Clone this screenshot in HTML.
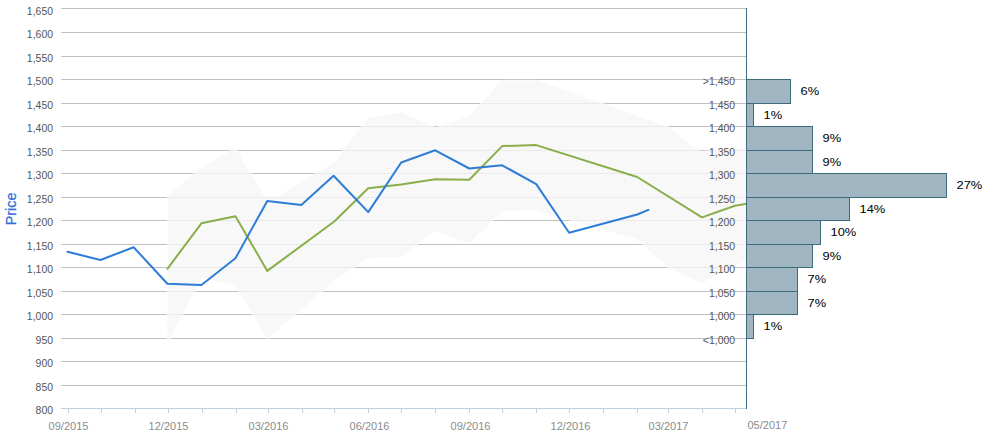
<!DOCTYPE html><html><head><meta charset="utf-8"><style>html,body{margin:0;padding:0;background:#fff;width:988px;height:437px;overflow:hidden}svg{display:block}text{font-family:"Liberation Sans",sans-serif}</style></head><body>
<svg width="988" height="437" viewBox="0 0 988 437">
<rect width="988" height="437" fill="#fff"/>
<path d="M61 8.5H746 M61 32.5H746 M61 56.5H746 M61 79.5H746 M61 103.5H746 M61 126.5H746 M61 150.5H746 M61 173.5H746 M61 197.5H746 M61 220.5H746 M61 244.5H746 M61 267.5H746 M61 291.5H746 M61 314.5H746 M61 338.5H746 M61 361.5H746 M61 385.5H746" stroke="#c0c0c0" stroke-width="1" fill="none" shape-rendering="crispEdges"/>
<path d="M167.39 195.50 L201.42 167.50 L235.45 147.60 L264.50 196.20 L277.00 196.20 L334.24 161.90 L368.27 117.30 L401.20 111.90 L435.23 127.80 L469.26 115.70 L501.50 80.30 L537.50 80.30 L668.00 126.50 L700.00 151.50 L746.00 147.50 L746.00 261.00 L701.80 283.50 L668.00 267.50 L636.80 239.60 L536.00 210.20 L502.50 211.50 L469.30 243.60 L434.90 231.00 L401.20 257.10 L367.80 258.50 L334.20 281.20 L267.30 339.00 L235.60 285.80 L201.80 278.30 L167.20 344.00Z" fill="rgba(246,246,246,0.78)" stroke="rgba(255,255,255,0.6)" stroke-width="1"/>
<path d="M61 408.5H746" stroke="#c0d0e0" stroke-width="1" shape-rendering="crispEdges"/>
<path d="M68.5 408V413 M101.5 408V413 M135.5 408V413 M168.5 408V413 M202.5 408V413 M236.5 408V413 M268.5 408V413 M302.5 408V413 M334.5 408V413 M368.5 408V413 M401.5 408V413 M435.5 408V413 M469.5 408V413 M502.5 408V413 M536.5 408V413 M569.5 408V413 M603.5 408V413 M637.5 408V413 M668.5 408V413 M702.5 408V413 M735.5 408V413" stroke="#c0d0e0" stroke-width="1" fill="none" shape-rendering="crispEdges"/>
<clipPath id="pc"><rect x="61" y="0" width="685.5" height="409"/></clipPath>
<path d="M167.39 268.80 L201.42 223.30 L235.45 216.20 L267.28 270.90 L334.24 221.50 L368.27 188.20 L401.20 184.60 L435.23 179.20 L469.26 179.80 L502.19 146.10 L536.22 145.10 L637.21 177.00 L701.97 217.40 L734.90 205.80 L747.00 203.70" fill="none" stroke="#8aae4a" stroke-width="2" stroke-linejoin="round" stroke-linecap="round" clip-path="url(#pc)"/>
<path d="M67.50 251.80 L100.50 260.00 L133.60 247.20 L167.39 283.70 L201.42 285.00 L235.45 258.30 L267.28 201.00 L301.31 205.00 L333.60 175.70 L368.27 212.10 L401.20 162.50 L435.23 150.30 L469.26 168.50 L502.19 165.30 L536.22 184.10 L569.15 232.80 L637.21 214.50 L648.40 209.90" fill="none" stroke="#2d7dd8" stroke-width="2" stroke-linejoin="round" stroke-linecap="round"/>
<rect x="746.5" y="79.5" width="44" height="24.0" fill="#a1b6c3" stroke="#3e6a7e" stroke-width="1" shape-rendering="crispEdges"/>
<rect x="746.5" y="103.5" width="7" height="23.0" fill="#a1b6c3" stroke="#3e6a7e" stroke-width="1" shape-rendering="crispEdges"/>
<rect x="746.5" y="126.5" width="66" height="24.0" fill="#a1b6c3" stroke="#3e6a7e" stroke-width="1" shape-rendering="crispEdges"/>
<rect x="746.5" y="150.5" width="66" height="23.0" fill="#a1b6c3" stroke="#3e6a7e" stroke-width="1" shape-rendering="crispEdges"/>
<rect x="746.5" y="173.5" width="200" height="24.0" fill="#a1b6c3" stroke="#3e6a7e" stroke-width="1" shape-rendering="crispEdges"/>
<rect x="746.5" y="197.5" width="103" height="23.0" fill="#a1b6c3" stroke="#3e6a7e" stroke-width="1" shape-rendering="crispEdges"/>
<rect x="746.5" y="220.5" width="74" height="24.0" fill="#a1b6c3" stroke="#3e6a7e" stroke-width="1" shape-rendering="crispEdges"/>
<rect x="746.5" y="244.5" width="66" height="23.0" fill="#a1b6c3" stroke="#3e6a7e" stroke-width="1" shape-rendering="crispEdges"/>
<rect x="746.5" y="267.5" width="51" height="24.0" fill="#a1b6c3" stroke="#3e6a7e" stroke-width="1" shape-rendering="crispEdges"/>
<rect x="746.5" y="291.5" width="51" height="23.0" fill="#a1b6c3" stroke="#3e6a7e" stroke-width="1" shape-rendering="crispEdges"/>
<rect x="746.5" y="314.5" width="7" height="24.0" fill="#a1b6c3" stroke="#3e6a7e" stroke-width="1" shape-rendering="crispEdges"/>
<text transform="translate(800.5 95.0) scale(1.17 1)" font-size="11" fill="#000">6%</text>
<text transform="translate(763.5 118.5) scale(1.17 1)" font-size="11" fill="#000">1%</text>
<text transform="translate(822.5 142.0) scale(1.17 1)" font-size="11" fill="#000">9%</text>
<text transform="translate(822.5 165.5) scale(1.17 1)" font-size="11" fill="#000">9%</text>
<text transform="translate(956.5 189.0) scale(1.17 1)" font-size="11" fill="#000">27%</text>
<text transform="translate(859.5 212.5) scale(1.17 1)" font-size="11" fill="#000">14%</text>
<text transform="translate(830.5 236.0) scale(1.17 1)" font-size="11" fill="#000">10%</text>
<text transform="translate(822.5 259.5) scale(1.17 1)" font-size="11" fill="#000">9%</text>
<text transform="translate(807.5 283.0) scale(1.17 1)" font-size="11" fill="#000">7%</text>
<text transform="translate(807.5 306.5) scale(1.17 1)" font-size="11" fill="#000">7%</text>
<text transform="translate(763.5 330.0) scale(1.17 1)" font-size="11" fill="#000">1%</text>
<path d="M746.5 8V409" stroke="#3e6a7e" stroke-width="1" shape-rendering="crispEdges"/>
<text transform="translate(53 15) scale(0.95 1)" font-size="11" fill="#555" text-anchor="end">1,650</text>
<text transform="translate(53 38) scale(0.95 1)" font-size="11" fill="#555" text-anchor="end">1,600</text>
<text transform="translate(53 62) scale(0.95 1)" font-size="11" fill="#555" text-anchor="end">1,550</text>
<text transform="translate(53 85) scale(0.95 1)" font-size="11" fill="#555" text-anchor="end">1,500</text>
<text transform="translate(53 109) scale(0.95 1)" font-size="11" fill="#555" text-anchor="end">1,450</text>
<text transform="translate(53 132) scale(0.95 1)" font-size="11" fill="#555" text-anchor="end">1,400</text>
<text transform="translate(53 156) scale(0.95 1)" font-size="11" fill="#555" text-anchor="end">1,350</text>
<text transform="translate(53 179) scale(0.95 1)" font-size="11" fill="#555" text-anchor="end">1,300</text>
<text transform="translate(53 203) scale(0.95 1)" font-size="11" fill="#555" text-anchor="end">1,250</text>
<text transform="translate(53 226) scale(0.95 1)" font-size="11" fill="#555" text-anchor="end">1,200</text>
<text transform="translate(53 250) scale(0.95 1)" font-size="11" fill="#555" text-anchor="end">1,150</text>
<text transform="translate(53 273) scale(0.95 1)" font-size="11" fill="#555" text-anchor="end">1,100</text>
<text transform="translate(53 297) scale(0.95 1)" font-size="11" fill="#555" text-anchor="end">1,050</text>
<text transform="translate(53 320) scale(0.95 1)" font-size="11" fill="#555" text-anchor="end">1,000</text>
<text transform="translate(53 344) scale(0.95 1)" font-size="11" fill="#555" text-anchor="end">950</text>
<text transform="translate(53 367) scale(0.95 1)" font-size="11" fill="#555" text-anchor="end">900</text>
<text transform="translate(53 391) scale(0.95 1)" font-size="11" fill="#555" text-anchor="end">850</text>
<text transform="translate(53 414) scale(0.95 1)" font-size="11" fill="#555" text-anchor="end">800</text>
<text transform="translate(735.1 85) scale(0.95 1)" font-size="11" fill="#555" text-anchor="end">&gt;1,450</text>
<text transform="translate(735.1 109) scale(0.95 1)" font-size="11" fill="#555" text-anchor="end">1,450</text>
<text transform="translate(735.1 132) scale(0.95 1)" font-size="11" fill="#555" text-anchor="end">1,400</text>
<text transform="translate(735.1 156) scale(0.95 1)" font-size="11" fill="#555" text-anchor="end">1,350</text>
<text transform="translate(735.1 179) scale(0.95 1)" font-size="11" fill="#555" text-anchor="end">1,300</text>
<text transform="translate(735.1 203) scale(0.95 1)" font-size="11" fill="#555" text-anchor="end">1,250</text>
<text transform="translate(735.1 226) scale(0.95 1)" font-size="11" fill="#555" text-anchor="end">1,200</text>
<text transform="translate(735.1 250) scale(0.95 1)" font-size="11" fill="#555" text-anchor="end">1,150</text>
<text transform="translate(735.1 273) scale(0.95 1)" font-size="11" fill="#555" text-anchor="end">1,100</text>
<text transform="translate(735.1 297) scale(0.95 1)" font-size="11" fill="#555" text-anchor="end">1,050</text>
<text transform="translate(735.1 320) scale(0.95 1)" font-size="11" fill="#555" text-anchor="end">1,000</text>
<text transform="translate(735.1 344) scale(0.95 1)" font-size="11" fill="#555" text-anchor="end">&lt;1,000</text>
<text x="68.5" y="430" font-size="11" fill="#8c8c8c" text-anchor="middle">09/2015</text>
<text x="168.5" y="430" font-size="11" fill="#8c8c8c" text-anchor="middle">12/2015</text>
<text x="268.5" y="430" font-size="11" fill="#8c8c8c" text-anchor="middle">03/2016</text>
<text x="369.5" y="430" font-size="11" fill="#8c8c8c" text-anchor="middle">06/2016</text>
<text x="470.5" y="430" font-size="11" fill="#8c8c8c" text-anchor="middle">09/2016</text>
<text x="570.5" y="430" font-size="11" fill="#8c8c8c" text-anchor="middle">12/2016</text>
<text x="668.5" y="430" font-size="11" fill="#8c8c8c" text-anchor="middle">03/2017</text>
<text x="747.5" y="429" font-size="11" fill="#8c8c8c">05/2017</text>
<text transform="translate(16.3 208.9) rotate(-90)" font-size="14.3" fill="#2f6fd0" stroke="#2f6fd0" stroke-width="0.25" text-anchor="middle">Price</text>
</svg></body></html>
